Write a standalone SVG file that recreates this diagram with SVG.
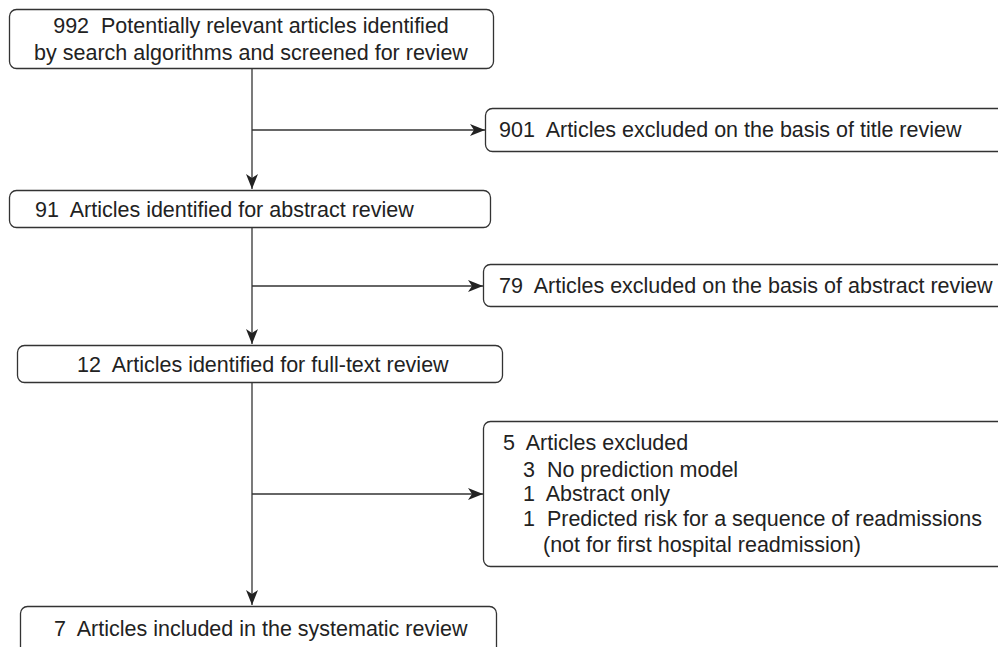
<svg xmlns="http://www.w3.org/2000/svg" width="998" height="647" viewBox="0 0 998 647">
<defs>
<marker id="ah" viewBox="0 0 15 12" refX="15" refY="6" markerWidth="15" markerHeight="12" markerUnits="userSpaceOnUse" orient="auto">
<path d="M0,0 L15,6 L0,12 L4,6 Z" fill="#222"/>
</marker>
<style>
.box{fill:#fff;stroke:#333;stroke-width:1.3}
.t{font-family:"Liberation Sans",Arial,sans-serif;font-size:21.5px;fill:#222;white-space:pre}
.c{text-anchor:middle}
.ln{stroke:#333;stroke-width:1.3;fill:none}
</style>
</defs>
<rect width="998" height="647" fill="#fff"/>
<g id="n1">
<rect class="box" x="9.5" y="9.5" width="484" height="59" rx="7"/>
<text class="t c" x="251" y="33" xml:space="preserve">992  Potentially relevant articles identified</text>
<text class="t c" x="251" y="60">by search algorithms and screened for review</text>
</g>
<g id="n2">
<rect class="box" x="485.5" y="108.5" width="530" height="43" rx="7"/>
<text class="t" x="499" y="137" xml:space="preserve">901  Articles excluded on the basis of title review</text>
</g>
<g id="n3">
<rect class="box" x="9.5" y="190.5" width="481" height="37" rx="7"/>
<text class="t" x="35" y="217" xml:space="preserve">91  Articles identified for abstract review</text>
</g>
<g id="n4">
<rect class="box" x="483.5" y="264.5" width="530" height="42" rx="7"/>
<text class="t" x="499" y="293" xml:space="preserve">79  Articles excluded on the basis of abstract review</text>
</g>
<g id="n5">
<rect class="box" x="17.5" y="345.5" width="485" height="37" rx="7"/>
<text class="t" x="77" y="372" xml:space="preserve">12  Articles identified for full-text review</text>
</g>
<g id="n6">
<rect class="box" x="483.5" y="421.5" width="530" height="145" rx="7"/>
<text class="t" x="503" y="450" xml:space="preserve">5  Articles excluded</text>
<text class="t" x="523" y="477" xml:space="preserve">3  No prediction model</text>
<text class="t" x="523" y="501" xml:space="preserve">1  Abstract only</text>
<text class="t" x="523" y="526" xml:space="preserve">1  Predicted risk for a sequence of readmissions</text>
<text class="t" x="543" y="552">(not for first hospital readmission)</text>
</g>
<g id="n7">
<rect class="box" x="20.5" y="606.5" width="476" height="60" rx="7"/>
<text class="t" x="54" y="636" xml:space="preserve">7  Articles included in the systematic review</text>
</g>
<g id="connectors">
<line class="ln" x1="252" y1="69" x2="252" y2="189" marker-end="url(#ah)"/>
<line class="ln" x1="252" y1="130" x2="485" y2="130" marker-end="url(#ah)"/>
<line class="ln" x1="252" y1="228" x2="252" y2="344" marker-end="url(#ah)"/>
<line class="ln" x1="252" y1="286" x2="483" y2="286" marker-end="url(#ah)"/>
<line class="ln" x1="252" y1="383" x2="252" y2="605" marker-end="url(#ah)"/>
<line class="ln" x1="252" y1="494" x2="483" y2="494" marker-end="url(#ah)"/>
</g>
</svg>
